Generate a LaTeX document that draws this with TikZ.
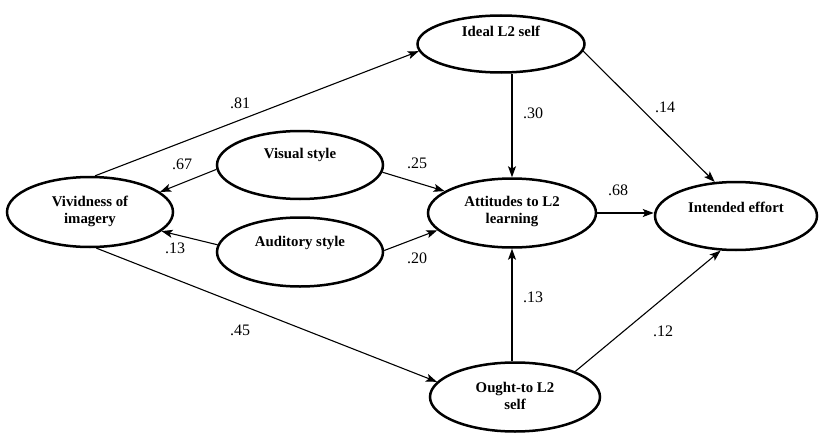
\documentclass[tikz,border=0pt]{standalone}
\usepackage{fontspec}
\setmainfont{Liberation Serif}
\usetikzlibrary{arrows.meta,shapes.geometric}
\begin{document}
\begin{tikzpicture}[x=1pt,y=-1pt,
  ell/.style={ellipse,draw=black,line width=2.5pt,inner sep=0pt},
  txt/.style={font=\fontsize{14.8}{17}\selectfont\bfseries,align=center,inner sep=0pt},
  coef/.style={font=\fontsize{16}{18}\selectfont,inner sep=0pt},
  arr/.style={line width=1.1pt,-{Stealth[length=11pt,width=8pt,inset=2.5pt]}}]
\useasboundingbox (0,0) rectangle (819,436);
% ellipses
\node[ell,minimum width=167pt,minimum height=57pt] (ideal) at (501,44) {};
\node[ell,minimum width=166pt,minimum height=70pt] (viv) at (90,212) {};
\node[ell,minimum width=166pt,minimum height=68pt] (vis) at (300,165) {};
\node[ell,minimum width=166pt,minimum height=69pt] (aud) at (300,252) {};
\node[ell,minimum width=168pt,minimum height=69pt] (att) at (512,213) {};
\node[ell,minimum width=162pt,minimum height=68pt] (eff) at (736,216) {};
\node[ell,minimum width=170pt,minimum height=69pt] (ought) at (515,397) {};
% texts
\node[txt] (idealtxt) at (501,31) {Ideal L2 self};
\node[txt] (vivtxt) at (90,211) {Vividness of\\imagery};
\node[txt] (vistxt) at (300,155) {Visual style};
\node[txt] (audtxt) at (300,243) {Auditory style};
\node[txt] (atttxt) at (512,211.5) {Attitudes to L2\\learning};
\node[txt] (efftxt) at (736,207) {Intended effort};
\node[txt] (oughttxt) at (515,395.5) {Ought-to L2\\self};
% connectors
\draw[arr] (viv.82) -- (ideal.185);
\draw[arr] (vis.183) -- (viv.16);
\draw[arr] (aud.175) -- (viv.-15);
\draw[arr] (vis.-5) -- (att.162);
\draw[arr] (aud.1.5) -- (att.193);
\draw[arr] (att.north |- ideal.south) -- (att.north);
\draw[arr] (att.south |- ought.north) -- (att.south);
\draw[arr] (att.east) -- (att.east -| eff.west);
\draw[arr] (ideal.-5) -- (eff.122.6);
\draw[arr] (ought.23) -- (eff.246);
\draw[arr] (viv.-80) -- (ought.169);
% coefficients
\node[coef] (c81) at (240,103) {.81};
\node[coef] (c67) at (182,164) {.67};
\node[coef] (c13a) at (175,248) {.13};
\node[coef] (c45) at (240,330) {.45};
\node[coef] (c25) at (417,163) {.25};
\node[coef] (c20) at (417,258) {.20};
\node[coef] (c30) at (533,113) {.30};
\node[coef] (c13b) at (533,297) {.13};
\node[coef] (c68) at (618,190) {.68};
\node[coef] (c14) at (665,107) {.14};
\node[coef] (c12) at (663,331) {.12};
\end{tikzpicture}
\end{document}
